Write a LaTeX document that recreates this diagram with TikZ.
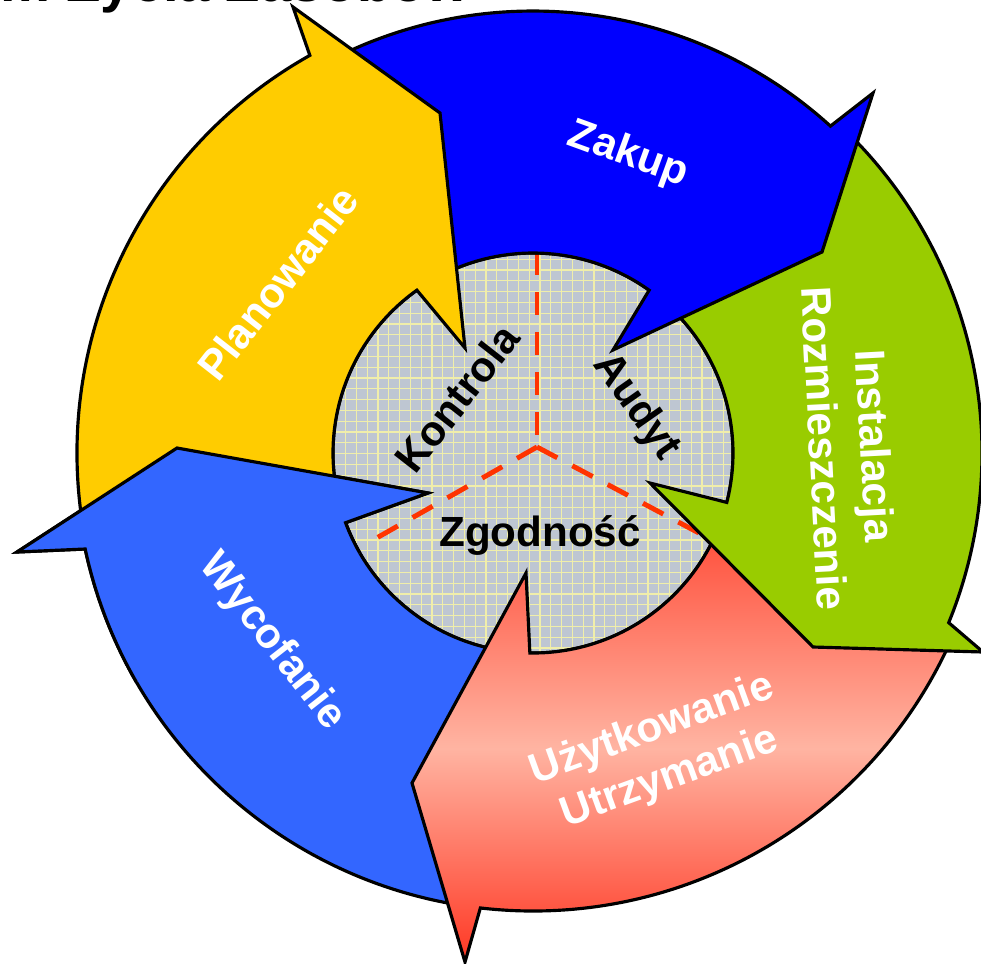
\documentclass[tikz,border=0pt]{standalone}
\usepackage{fontspec}
\setmainfont{Liberation Sans}
\usetikzlibrary{calc}

\definecolor{planYellow}{HTML}{FFCC00}
\definecolor{zakupBlue}{HTML}{0000FF}
\definecolor{instGreen}{HTML}{99CC00}
\definecolor{wycBlue}{HTML}{3366FF}
\definecolor{uzytTop}{RGB}{255,80,60}
\definecolor{uzytMid}{RGB}{255,180,162}
\definecolor{uzytBot}{RGB}{255,55,35}
\definecolor{hubGray}{RGB}{190,198,210}
\definecolor{hubGrid}{RGB}{240,238,170}
\definecolor{dashRed}{HTML}{FF3300}

% arrow Wycofanie is drawn twice (its head lies over Planowanie)
\newcommand{\wycofaniePath}{($(C)+(99:458)$) arc[start angle=99, end angle=167.9, radius=458]
  -- (17,552) -- (177,448) -- (428,493) -- ($(C)+(159.6:200)$)
  arc[start angle=159.6, end angle=99, radius=200] -- cycle}

\begin{document}
\begin{tikzpicture}[x=0.1mm, y=-0.1mm,
    arrowband/.style={draw=black, line width=0.9pt, line join=miter},
    bandlabel/.style={text=white, align=center, font=\bfseries\fontsize{12}{14.5}\selectfont},
    hublabel/.style={text=black, font=\bfseries\fontsize{12}{14.5}\selectfont},
    dashline/.style={draw=dashRed, line width=1.4pt, dash pattern=on 2.3mm off 1.7mm}]
    \useasboundingbox (0,0) rectangle (981,963);
    \coordinate (C) at (533,453);
    \coordinate (D) at (537,447);

    \node[anchor=base east, font=\bfseries\fontsize{16}{19}\selectfont] (tytul) at (482,1) {Zarządzanie Cyklem Życia Zasobów};

    % hub
    \fill[hubGray] (C) circle (200);
    \begin{scope}
      \clip (C) circle (200);
      \draw[hubGrid, line width=0.3pt, step=1.08mm] (320,670) grid (750,240);
    \end{scope}
    \draw[dashline] (537,252) -- (D);
    \draw[dashline] (D) -- (366,544);
    \draw[dashline] (D) -- (714,541);
    \draw[line width=0.9pt] (C) circle (200);

    % arrows
    \filldraw[arrowband, fill=wycBlue] \wycofaniePath;
    \shadedraw[arrowband, top color=uzytTop, bottom color=uzytBot, middle color=uzytMid]
      ($(C)+(24:458)$) arc[start angle=24, end angle=96.6, radius=458]
      -- (465,962) -- (412,783) -- (526,573) -- ($(C)+(90.9:200)$)
      arc[start angle=90.9, end angle=24, radius=200] -- cycle;
    \filldraw[arrowband, fill=instGreen]
      ($(C)+(-46:449)$) arc[start angle=-46, end angle=22.2, radius=449]
      -- (983,652) -- (813,647) -- (650,483) -- ($(C)+(14.3:200)$)
      arc[start angle=14.3, end angle=-46, radius=200] -- cycle;
    \filldraw[arrowband, fill=zakupBlue]
      ($(C)+(-116.5:442)$) arc[start angle=-116.5, end angle=-47.7, radius=442]
      -- (873,93) -- (822,252) -- (613,350) -- ($(C)+(-54.5:200)$)
      arc[start angle=-54.5, end angle=-116.5, radius=200] -- cycle;
    \filldraw[arrowband, fill=planYellow]
      ($(C)+(-190:456)$) arc[start angle=-190, end angle=-119.3, radius=456]
      -- (293,7) -- (440,113) -- (465,348) -- ($(C)+(-125.5:200)$)
      arc[start angle=-125.5, end angle=-190, radius=200] -- cycle;
    \begin{scope}
      \clip (C) -- ($(C)+(150:600)$) -- ($(C)+(188:600)$) -- cycle;
      \filldraw[arrowband, fill=wycBlue] \wycofaniePath;
    \end{scope}

    % labels
    \node[bandlabel, rotate=-20] (zakup) at (628,155) {Zakup};
    \node[bandlabel, rotate=52] (planowanie) at (278,283) {Planowanie};
    \node[bandlabel, rotate=-87] (instalacja) at (850,447) {Instalacja\\Rozmieszczenie};
    \node[bandlabel, rotate=20] (uzytkowanie) at (661,754) {Użytkowanie\\Utrzymanie};
    \node[bandlabel, rotate=-52] (wycofanie) at (272,642) {Wycofanie};
    \node[hublabel, rotate=52] (kontrola) at (457,398) {Kontrola};
    \node[hublabel, rotate=-55] (audyt) at (636,407) {Audyt};
    \node[hublabel] (zgodnosc) at (540,535) {Zgodność};
\end{tikzpicture}
\end{document}
